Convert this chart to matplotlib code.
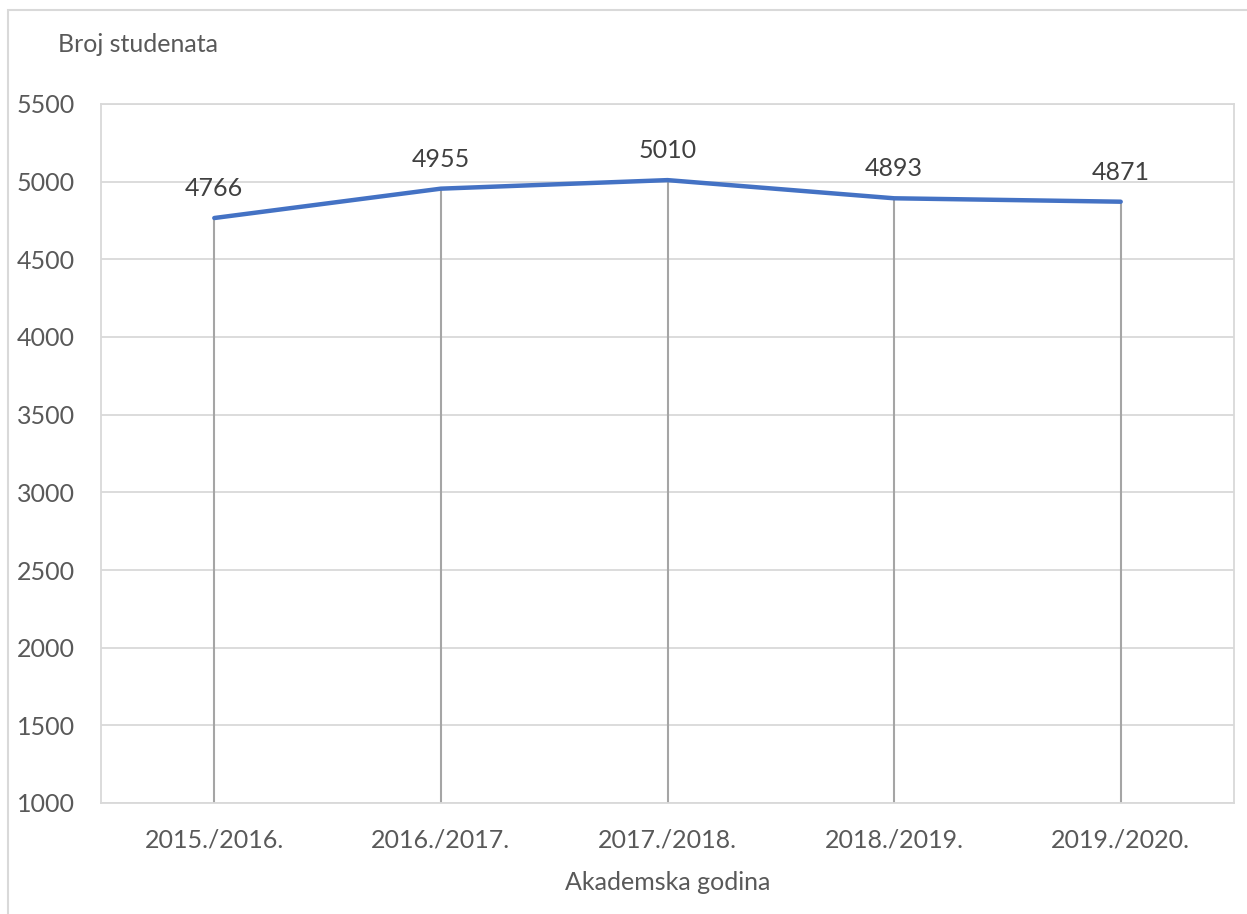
import matplotlib.pyplot as plt
import matplotlib.patches as patches

# data
years = ["2015./2016.", "2016./2017.", "2017./2018.", "2018./2019.", "2019./2020."]
students = [4766, 4955, 5010, 4893, 4871]
y_ticks = [1000, 1500, 2000, 2500, 3000, 3500, 4000, 4500, 5000, 5500]

plt.rcParams['font.family'] = ['Lato', 'DejaVu Sans']
FS = 18

fig = plt.figure(figsize=(12.47, 9.14), dpi=100)
ax = fig.add_axes([101 / 1247, 1 - 803 / 914, 1133 / 1247, 699 / 914])

# outer chart border (light gray, cut off at right/bottom like the original)
fig.patches.append(patches.Rectangle((8 / 1247, -0.1), 1.2, 1 - 10 / 914 + 0.1,
                                     transform=fig.transFigure, fill=False,
                                     edgecolor='#D9D9D9', linewidth=1.5))

x = list(range(len(years)))

# drop lines from each point down to the axis
ax.vlines(x, y_ticks[0], students, color='#A5A5A5', linewidth=1.5, zorder=2)
ax.plot(x, students, color='#4472C4', linewidth=3.2, solid_capstyle='round',
        solid_joinstyle='round', zorder=3)

for xi, v in zip(x, students):
    ax.annotate(str(v), (xi, v), xytext=(0, 13), textcoords='offset points',
                ha='center', va='bottom', fontsize=FS, color='#404040')

ax.set_xlim(-0.5, len(years) - 0.5)
ax.set_ylim(1000, 5500)
ax.set_yticks(y_ticks)
ax.set_xticks(x)
ax.set_xticklabels(years)
ax.grid(axis='y', color='#D9D9D9', linewidth=1.3)
ax.set_axisbelow(True)
for s in ax.spines.values():
    s.set_color('#D9D9D9')
    s.set_linewidth(1.3)
ax.tick_params(length=0, labelsize=FS, labelcolor='#595959')
ax.tick_params(axis='y', pad=19)
ax.tick_params(axis='x', pad=18)

fig.text(58 / 1247, 1 - 45 / 914, "Broj studenata", fontsize=FS, color='#595959',
         va='center', ha='left')
fig.text(668 / 1247, 1 - 883 / 914, "Akademska godina", fontsize=FS, color='#595959',
         va='center', ha='center')

fig.savefig("out.png", dpi=100)
